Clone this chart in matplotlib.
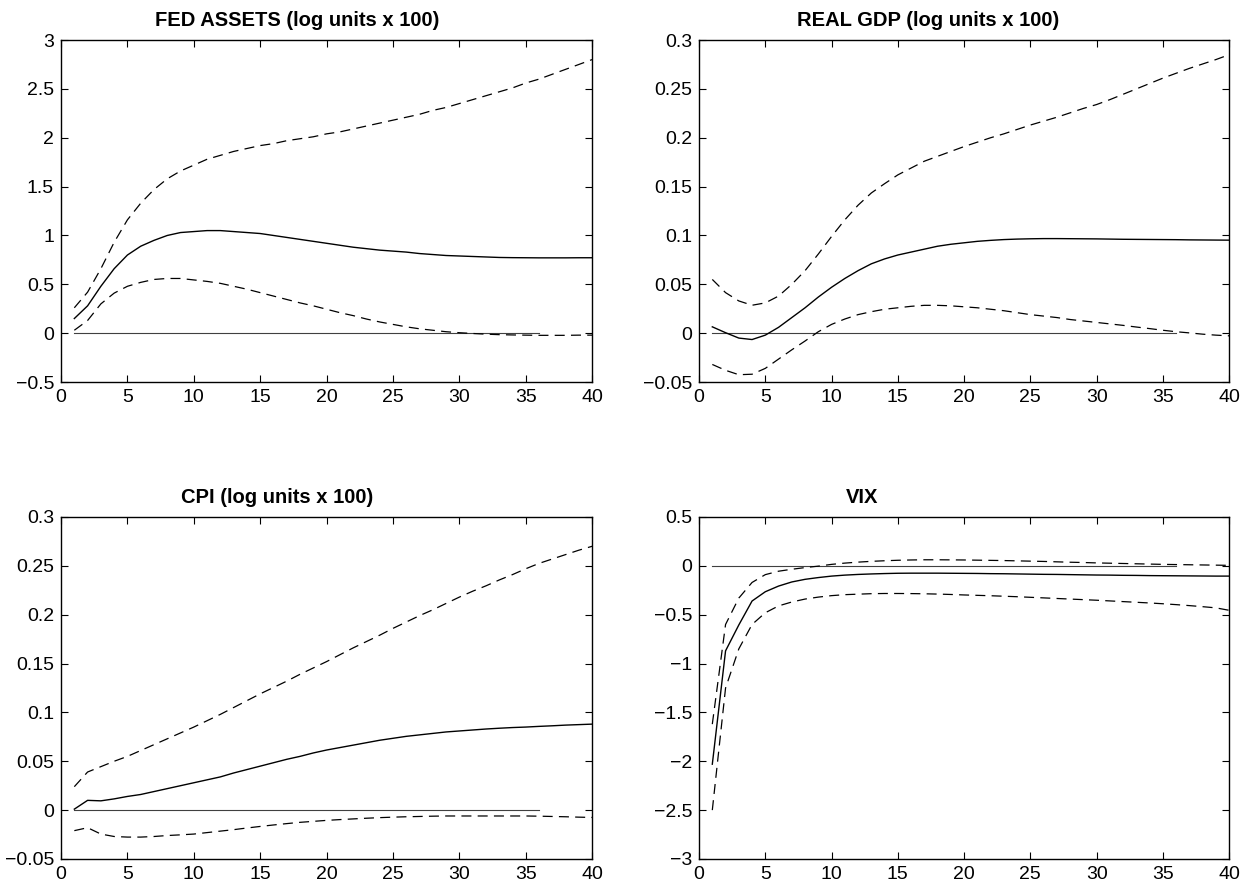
import numpy as np
import matplotlib
matplotlib.use("Agg")
import matplotlib.pyplot as plt
from matplotlib.ticker import FuncFormatter

plt.rcParams['font.family'] = ['Liberation Sans', 'DejaVu Sans']

h = np.arange(1, 41)

fed_mid = [0.15, 0.28, 0.48, 0.66, 0.80, 0.89, 0.95, 1.00, 1.03, 1.04,
           1.05, 1.05, 1.04, 1.03, 1.02, 1.00, 0.98, 0.96, 0.94, 0.92,
           0.90, 0.88, 0.865, 0.85, 0.84, 0.83, 0.815, 0.805, 0.795, 0.79,
           0.785, 0.78, 0.775, 0.773, 0.772, 0.771, 0.771, 0.771, 0.772, 0.772]
fed_hi = [0.26, 0.42, 0.66, 0.93, 1.16, 1.33, 1.47, 1.58, 1.66, 1.72,
          1.78, 1.82, 1.86, 1.89, 1.92, 1.94, 1.97, 1.99, 2.01, 2.04,
          2.06, 2.09, 2.12, 2.15, 2.18, 2.21, 2.24, 2.28, 2.31, 2.35,
          2.39, 2.43, 2.47, 2.51, 2.56, 2.60, 2.65, 2.70, 2.75, 2.80]
fed_lo = [0.03, 0.13, 0.30, 0.41, 0.48, 0.52, 0.55, 0.56, 0.56, 0.545,
          0.53, 0.51, 0.48, 0.45, 0.415, 0.38, 0.345, 0.31, 0.28, 0.245,
          0.21, 0.18, 0.145, 0.115, 0.09, 0.065, 0.045, 0.03, 0.015, 0.005,
          -0.003, -0.01, -0.015, -0.018, -0.02, -0.022, -0.022, -0.022, -0.02, -0.02]

gdp_mid = [0.0065, 0.0005, -0.005, -0.0065, -0.002, 0.006, 0.016, 0.026, 0.037, 0.047,
           0.056, 0.064, 0.071, 0.076, 0.080, 0.083, 0.086, 0.089, 0.091, 0.0925,
           0.094, 0.095, 0.0958, 0.0963, 0.0966, 0.0968, 0.0968, 0.0967, 0.0966, 0.0965,
           0.0963, 0.0961, 0.096, 0.0959, 0.0958, 0.0957, 0.0955, 0.0954, 0.0953, 0.0952]
gdp_hi = [0.055, 0.0415, 0.033, 0.0286, 0.031, 0.038, 0.050, 0.064, 0.081, 0.099,
          0.116, 0.131, 0.1435, 0.153, 0.162, 0.169, 0.176, 0.181, 0.186, 0.191,
          0.1955, 0.200, 0.204, 0.2085, 0.213, 0.217, 0.221, 0.2255, 0.23, 0.234,
          0.239, 0.2445, 0.250, 0.2555, 0.261, 0.266, 0.271, 0.2755, 0.280, 0.285]
gdp_lo = [-0.032, -0.038, -0.0425, -0.042, -0.036, -0.0265, -0.017, -0.008, 0.0015, 0.009,
          0.0145, 0.019, 0.022, 0.0245, 0.026, 0.0275, 0.0285, 0.0285, 0.028, 0.027,
          0.026, 0.0245, 0.023, 0.021, 0.019, 0.0175, 0.016, 0.014, 0.0125, 0.011,
          0.0095, 0.008, 0.0063, 0.0047, 0.003, 0.0015, 0.0003, -0.001, -0.002, -0.0027]

cpi_mid = [0.001, 0.010, 0.0095, 0.0115, 0.014, 0.016, 0.019, 0.022, 0.025, 0.028,
           0.031, 0.034, 0.038, 0.0415, 0.045, 0.0485, 0.052, 0.055, 0.0585, 0.0615,
           0.064, 0.0665, 0.069, 0.0715, 0.0735, 0.0755, 0.077, 0.0785, 0.080, 0.081,
           0.082, 0.083, 0.0838, 0.0845, 0.085, 0.0857, 0.0863, 0.087, 0.0875, 0.088]
cpi_hi = [0.024, 0.039, 0.0445, 0.050, 0.055, 0.061, 0.067, 0.073, 0.079, 0.085,
          0.0915, 0.098, 0.105, 0.112, 0.119, 0.1255, 0.132, 0.139, 0.1455, 0.152,
          0.159, 0.166, 0.1725, 0.179, 0.186, 0.1925, 0.199, 0.205, 0.2115, 0.218,
          0.224, 0.2295, 0.2355, 0.241, 0.247, 0.2525, 0.257, 0.2615, 0.266, 0.27]
cpi_lo = [-0.021, -0.018, -0.0245, -0.027, -0.0276, -0.0276, -0.027, -0.026, -0.0253, -0.0245,
          -0.023, -0.0215, -0.02, -0.0183, -0.0167, -0.0152, -0.0138, -0.0125, -0.0115, -0.0105,
          -0.0097, -0.009, -0.0083, -0.0077, -0.0072, -0.0068, -0.0065, -0.0062, -0.006, -0.006,
          -0.006, -0.006, -0.006, -0.006, -0.006, -0.0062, -0.0065, -0.0068, -0.0072, -0.0075]

vix_mid = [-2.03, -0.87, -0.605, -0.36, -0.265, -0.207, -0.165, -0.138, -0.12, -0.105,
           -0.095, -0.088, -0.083, -0.079, -0.076, -0.075, -0.075, -0.075, -0.076, -0.077,
           -0.078, -0.08, -0.081, -0.083, -0.085, -0.087, -0.088, -0.09, -0.092, -0.094,
           -0.095, -0.097, -0.098, -0.1, -0.101, -0.102, -0.103, -0.104, -0.105, -0.105]
vix_hi = [-1.62, -0.6, -0.33, -0.17, -0.09, -0.055, -0.035, -0.018, -0.003, 0.015,
          0.028, 0.038, 0.046, 0.052, 0.057, 0.06, 0.062, 0.062, 0.061, 0.06,
          0.058, 0.056, 0.054, 0.051, 0.048, 0.045, 0.041, 0.037, 0.034, 0.03,
          0.027, 0.024, 0.021, 0.018, 0.015, 0.013, 0.011, 0.009, 0.007, 0.005]
vix_lo = [-2.5, -1.25, -0.85, -0.6, -0.48, -0.41, -0.37, -0.34, -0.32, -0.305,
          -0.295, -0.29, -0.285, -0.283, -0.283, -0.284, -0.286, -0.289, -0.293, -0.298,
          -0.302, -0.306, -0.311, -0.316, -0.322, -0.328, -0.334, -0.34, -0.346, -0.352,
          -0.359, -0.366, -0.373, -0.38, -0.388, -0.397, -0.407, -0.418, -0.43, -0.455]

titles = ['FED ASSETS (log units x 100)', 'REAL GDP (log units x 100)',
          'CPI (log units x 100)', 'VIX']
title_x = [0.444, 0.432, 0.407, 0.308]
yticks = [np.arange(-0.5, 3.01, 0.5), np.arange(-0.05, 0.301, 0.05),
          np.arange(-0.05, 0.301, 0.05), np.arange(-3, 0.51, 0.5)]
ylims = [(-0.5, 3), (-0.05, 0.3), (-0.05, 0.3), (-3, 0.5)]
series = [(fed_mid, fed_hi, fed_lo), (gdp_mid, gdp_hi, gdp_lo),
          (cpi_mid, cpi_hi, cpi_lo), (vix_mid, vix_hi, vix_lo)]

positions = [[0.0488, 0.5688, 0.4245, 0.386], [0.5588, 0.5688, 0.4237, 0.386],
             [0.0488, 0.0305, 0.4245, 0.386], [0.5588, 0.0305, 0.4237, 0.386]]

fmt = FuncFormatter(lambda v, p: ('%g' % round(v, 4)).replace('-', '\u2212'))

fig = plt.figure(figsize=(12.51, 8.86), dpi=100)
for i in range(4):
    ax = fig.add_axes(positions[i])
    mid, hi, lo = series[i]
    ax.plot(h[:36], np.zeros(36), color='0.25', lw=0.8)
    ax.plot(h, mid, color='black', lw=1.0)
    ax.plot(h, hi, color='black', lw=0.9, dashes=(8, 5))
    ax.plot(h, lo, color='black', lw=0.9, dashes=(8, 5))
    ax.set_xlim(0, 40)
    ax.set_ylim(*ylims[i])
    ax.set_xticks(np.arange(0, 41, 5))
    ax.set_yticks(yticks[i])
    ax.yaxis.set_major_formatter(fmt)
    ax.tick_params(direction='in', top=True, right=True, length=5, width=0.8,
                   labelsize=14, pad=5)
    for s in ax.spines.values():
        s.set_linewidth(1.0)
    ax.set_title(titles[i], fontsize=14.5, fontweight='bold', x=title_x[i], pad=10)

plt.savefig('out.png', dpi=100)
